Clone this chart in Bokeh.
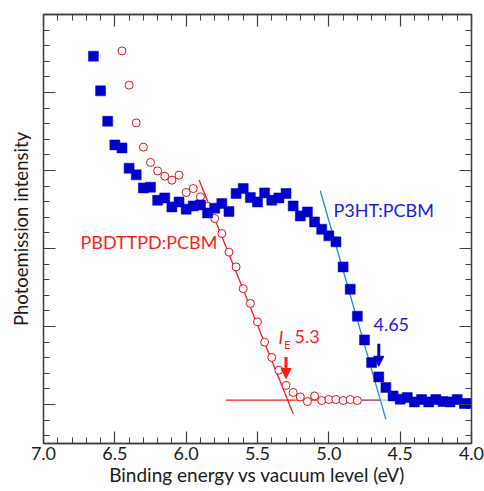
import math
from bokeh.plotting import figure
from bokeh.models import (Range1d, LinearAxis, FixedTicker, PrintfTickFormatter,
                          CustomJSTickFormatter, Label, Arrow, NormalHead)
from bokeh.embed import file_html
from bokeh.resources import INLINE

# ---------------- data ----------------
p3ht_x = [6.65, 6.60, 6.55, 6.50, 6.45, 6.40, 6.35, 6.30, 6.25, 6.20, 6.15, 6.10,
          6.05, 6.00, 5.95, 5.90, 5.85, 5.80, 5.75, 5.70, 5.65, 5.60, 5.55, 5.50,
          5.45, 5.40, 5.35, 5.30, 5.25, 5.20, 5.15, 5.10, 5.05, 5.00, 4.95, 4.90,
          4.85, 4.80, 4.75, 4.70, 4.65, 4.60, 4.55, 4.50, 4.45, 4.40, 4.35, 4.30,
          4.25, 4.20, 4.15, 4.10, 4.05, 4.00]
p3ht_y = [4.466, 4.021, 3.632, 3.328, 3.290, 3.029, 2.944, 2.777, 2.786, 2.619,
          2.649, 2.533, 2.597, 2.504, 2.546, 2.559, 2.456, 2.517, 2.577, 2.474,
          2.705, 2.769, 2.654, 2.597, 2.713, 2.619, 2.649, 2.705, 2.546, 2.418,
          2.469, 2.341, 2.247, 2.162, 2.085, 1.764, 1.478, 1.132, 0.828, 0.538,
          0.354, 0.218, 0.110, 0.068, 0.090, 0.033, 0.064, 0.033, 0.064, 0.038,
          0.033, 0.064, 0.013, 0.013]

pbdttpd_x = [6.45, 6.40, 6.35, 6.30, 6.25, 6.20, 6.15, 6.10, 6.05, 6.00, 5.95, 5.90,
             5.85, 5.80, 5.75, 5.70, 5.65, 5.60, 5.55, 5.50, 5.45, 5.40, 5.35, 5.30,
             5.25, 5.20, 5.15, 5.10, 5.05, 5.00, 4.95, 4.90, 4.85, 4.80]
pbdttpd_y = [4.533, 4.094, 3.610, 3.299, 3.103, 2.995, 2.927, 2.876, 2.940, 2.718,
             2.769, 2.662, 2.542, 2.385, 2.192, 1.953, 1.764, 1.485, 1.295, 1.059,
             0.799, 0.603, 0.440, 0.244, 0.154, 0.097, 0.038, 0.110, 0.051, 0.064,
             0.064, 0.051, 0.064, 0.051]

# linear fits of the onsets and the baseline
red_fit_x = [5.91, 5.25]
red_fit_y = [2.88, -0.12]
blue_fit_x = [5.06, 4.60]
blue_fit_y = [2.74, -0.19]
baseline_x = [5.72, 4.64]
baseline_y = [0.055, 0.055]
baseline2_x = [4.78, 4.59]
baseline2_y = [0.055, 0.055]

# onset markers
onset_red = 5.3
onset_blue = 4.65
arrow_red_y = [0.61, 0.333]
arrow_blue_y = [0.78, 0.49]

x_major = [7.0, 6.5, 6.0, 5.5, 5.0, 4.5, 4.0]
x_minor = [7.0, 6.9, 6.8, 6.7, 6.6, 6.5, 6.4, 6.3, 6.2, 6.1, 6.0, 5.9, 5.8, 5.7, 5.6,
           5.5, 5.4, 5.3, 5.2, 5.1, 5.0, 4.9, 4.8, 4.7, 4.6, 4.5, 4.4, 4.3, 4.2, 4.1, 4.0]
y_major = [0, 1, 2, 3, 4, 5]
y_minor = [-0.4, -0.2, 0.0, 0.2, 0.4, 0.6, 0.8, 1.0, 1.2, 1.4, 1.6, 1.8, 2.0, 2.2,
           2.4, 2.6, 2.8, 3.0, 3.2, 3.4, 3.6, 3.8, 4.0, 4.2, 4.4, 4.6, 4.8]

x_title = "Binding energy vs vacuum level (eV)"
y_title = "Photoemission intensity"

RED = "#FF1A1A"
CIRC = "#E01010"
BLUE_SQ = "#0000CC"
BLUE_TXT = "#1A1AE6"
BLUE_LINE = "#1E88E5"
AX = "#404040"
TXT = "#1a1a1a"
FONT = "Lato"

p = figure(width=484, height=491, x_range=Range1d(7.0, 4.0), y_range=Range1d(-0.5, 5.0),
           output_backend="svg", toolbar_location=None, title=None,
           min_border_left=43, min_border_right=13, min_border_top=14, min_border_bottom=48,
           x_axis_location=None, y_axis_location=None)
p.xgrid.visible = False
p.ygrid.visible = False
p.outline_line_color = AX
p.outline_line_width = 1.3
p.background_fill_color = "white"
p.border_fill_color = "white"


def style_axis(ax, labels, title_size="18px"):
    ax.axis_line_color = AX
    ax.axis_line_width = 1.3
    ax.major_tick_line_color = AX
    ax.minor_tick_line_color = AX
    ax.major_tick_line_width = 1.2
    ax.minor_tick_line_width = 1.0
    ax.major_tick_in = 12
    ax.major_tick_out = 0
    ax.minor_tick_in = 6
    ax.minor_tick_out = 0
    ax.axis_label_text_font = FONT
    ax.axis_label_text_font_size = title_size
    ax.axis_label_text_font_style = "normal"
    ax.axis_label_text_color = TXT
    if labels:
        ax.formatter = PrintfTickFormatter(format="%.1f")
        ax.major_label_text_font = FONT
        ax.major_label_text_font_size = "18px"
        ax.major_label_text_color = TXT
        ax.major_label_standoff = 3
    else:
        ax.formatter = CustomJSTickFormatter(code="return ''")
        ax.major_label_standoff = 0
        ax.major_label_text_font_size = "1px"


bottom = LinearAxis(ticker=FixedTicker(ticks=x_major, minor_ticks=x_minor))
style_axis(bottom, True, "19px")
bottom.axis_label = x_title
bottom.axis_label_standoff = 0
top = LinearAxis(ticker=FixedTicker(ticks=x_major, minor_ticks=x_minor))
style_axis(top, False)
left = LinearAxis(ticker=FixedTicker(ticks=y_major, minor_ticks=y_minor))
style_axis(left, False, "18.5px")
left.axis_label = y_title
left.axis_label_standoff = 12
right = LinearAxis(ticker=FixedTicker(ticks=y_major, minor_ticks=y_minor))
style_axis(right, False)
p.add_layout(bottom, "below")
p.add_layout(top, "above")
p.add_layout(left, "left")
p.add_layout(right, "right")

# red series
p.line(red_fit_x, red_fit_y, line_color=RED, line_width=1.3)
p.line(baseline_x, baseline_y, line_color=RED, line_width=1.3)
p.line(baseline2_x, baseline2_y, line_color=BLUE_LINE, line_width=1.3, line_alpha=0.45)
p.scatter(pbdttpd_x, pbdttpd_y, marker="circle", size=8, line_color=CIRC,
          fill_color="white", line_width=1)

# blue series
p.line(blue_fit_x, blue_fit_y, line_color=BLUE_LINE, line_width=1.3)
p.scatter(p3ht_x, p3ht_y, marker="square", size=10, line_color=BLUE_SQ,
          fill_color=BLUE_SQ, line_width=0.5)

# arrows
p.add_layout(Arrow(end=NormalHead(size=10, fill_color=RED, line_color=RED, line_width=1),
                   x_start=onset_red, y_start=arrow_red_y[0], x_end=onset_red, y_end=arrow_red_y[1],
                   line_color=RED, line_width=3))
p.add_layout(Arrow(end=NormalHead(size=10, fill_color=BLUE_SQ, line_color=BLUE_SQ, line_width=1),
                   x_start=onset_blue, y_start=arrow_blue_y[0], x_end=onset_blue, y_end=arrow_blue_y[1],
                   line_color=BLUE_SQ, line_width=3))


def lab(x, y, text, color, size="18px", style="normal"):
    p.add_layout(Label(x=x, y=y, text=text, text_color=color, text_font=FONT,
                       text_font_size=size, text_font_style=style, text_align="left",
                       text_baseline="middle"))


lab(6.741, 2.087, "PBDTTPD:PCBM", RED)
lab(4.967, 2.491, "P3HT:PCBM", BLUE_TXT)
lab(4.687, 1.023, "4.65", BLUE_TXT)
lab(5.353, 0.869, "I", RED, style="italic")
lab(5.314, 0.773, "E", RED, size="11px")
lab(5.241, 0.869, "5.3", RED)

open("out.html", "w").write(file_html(p, INLINE))
